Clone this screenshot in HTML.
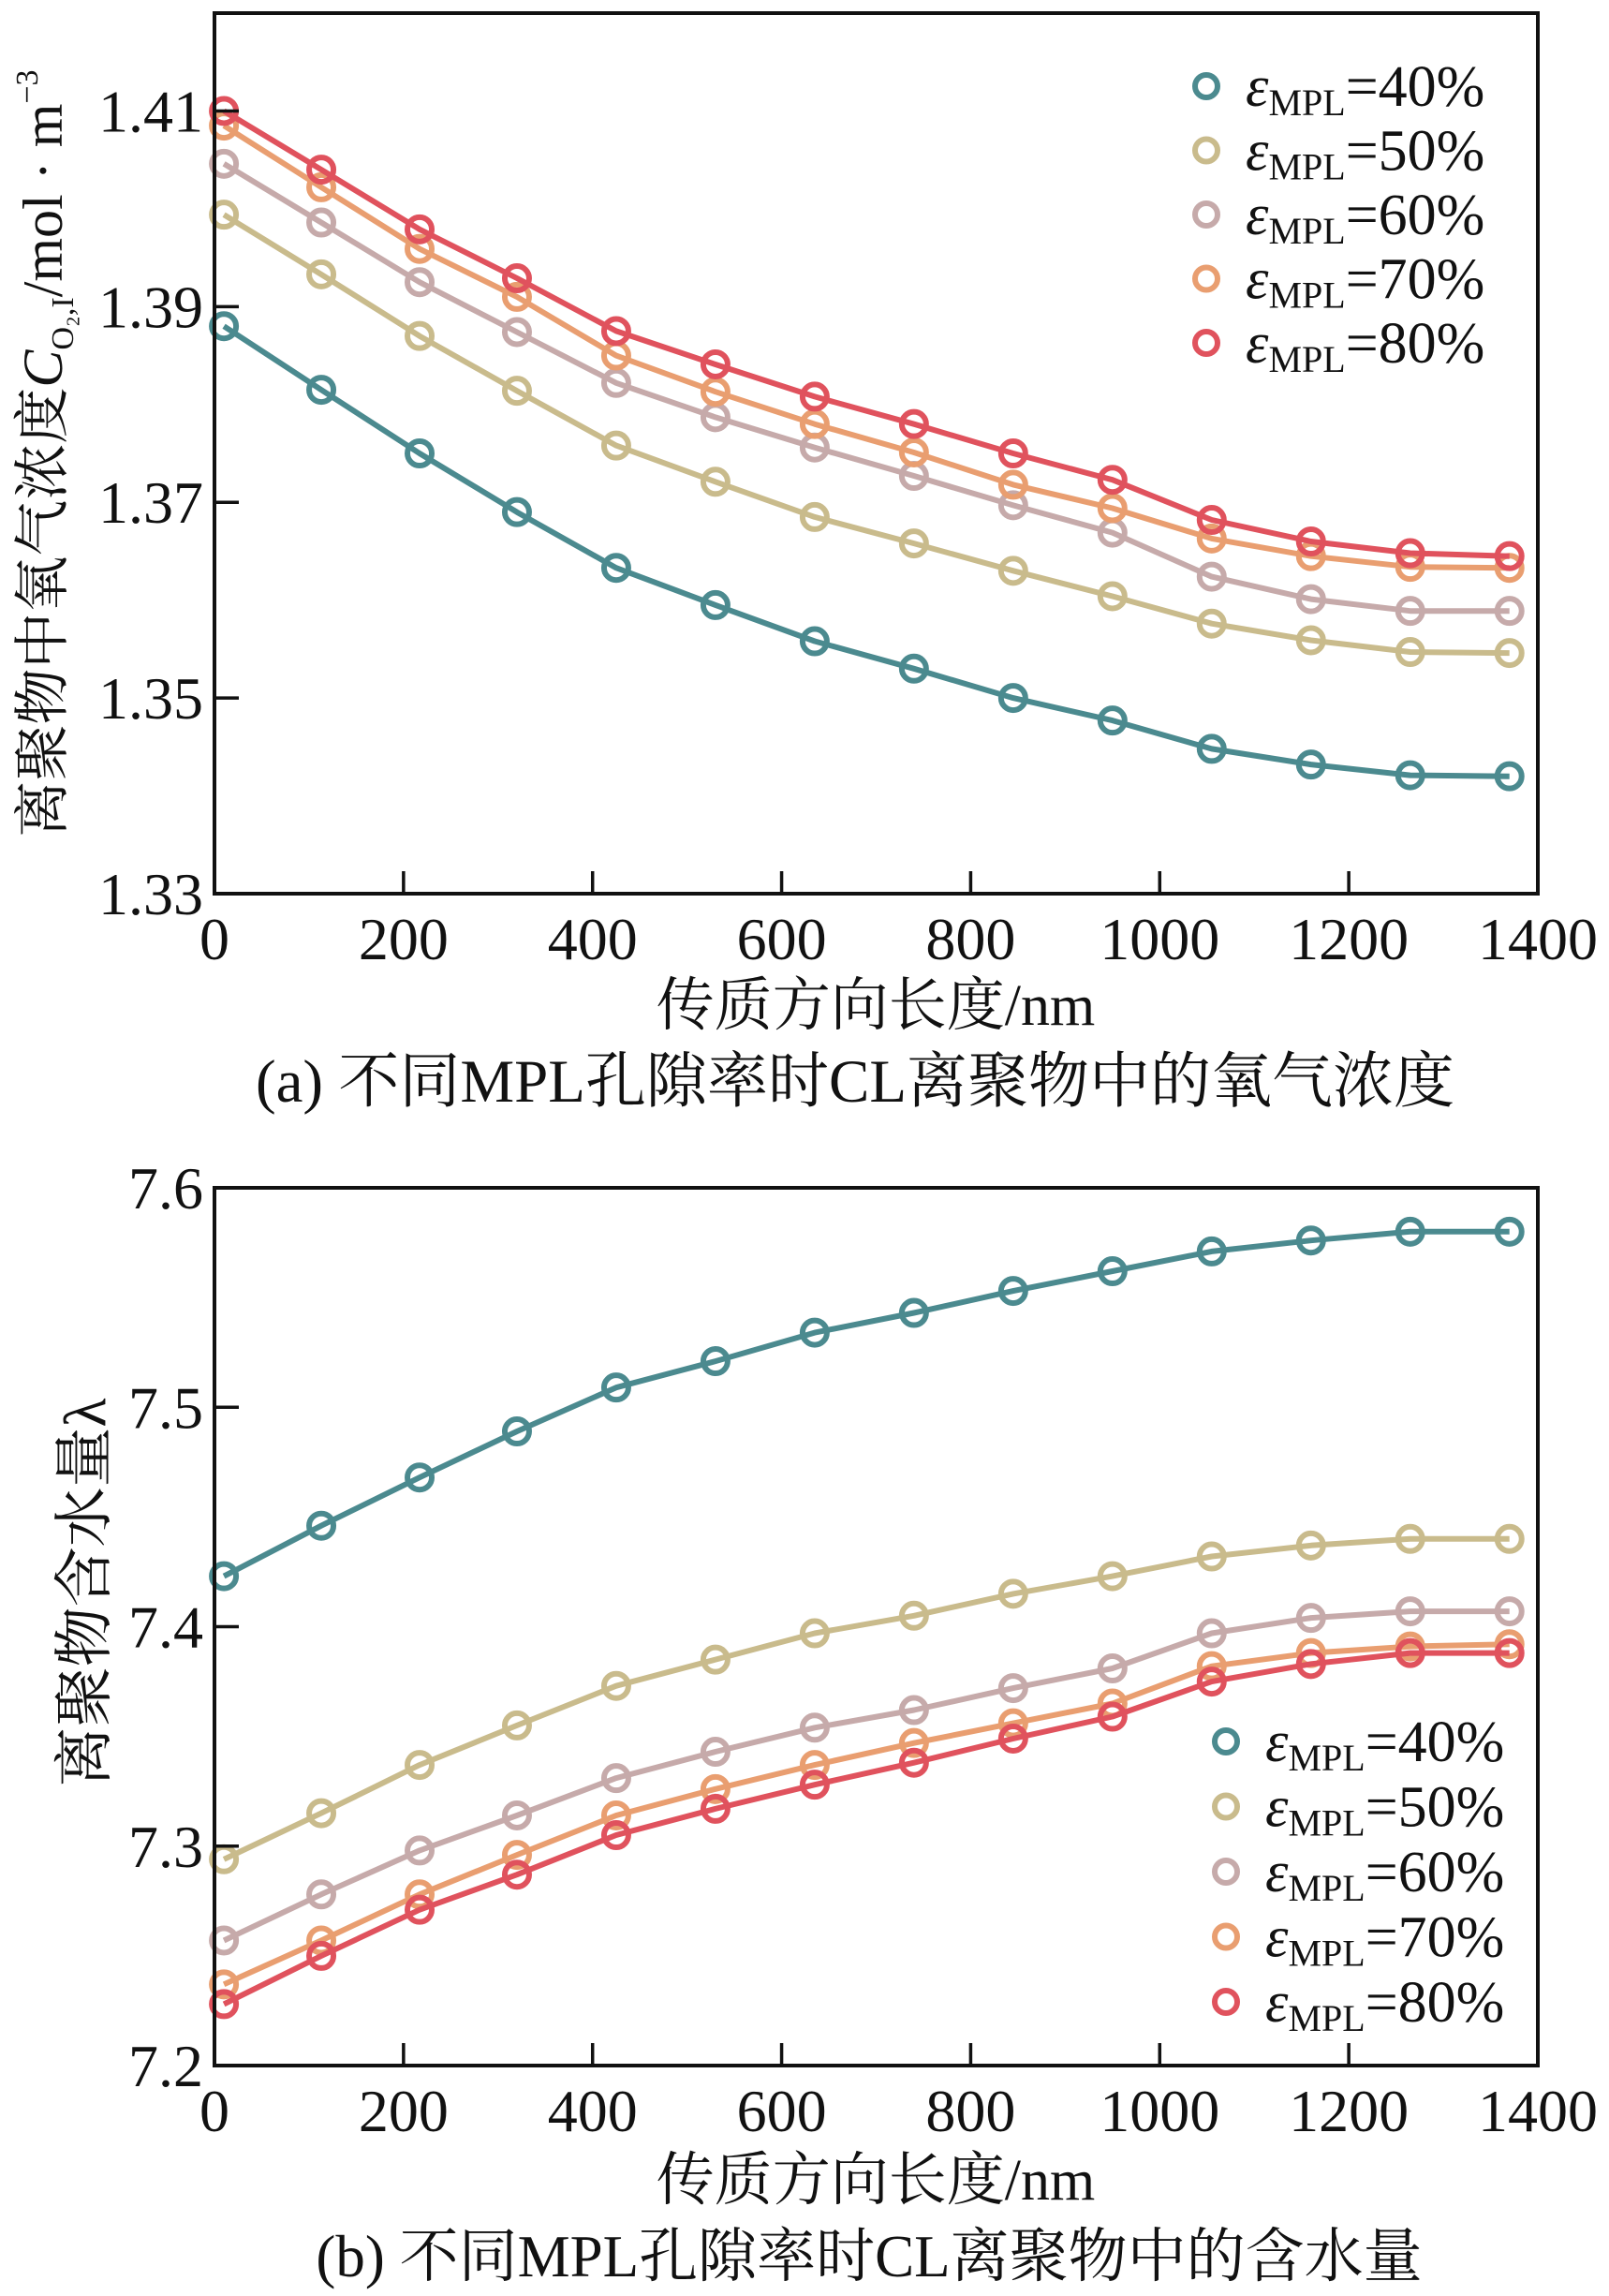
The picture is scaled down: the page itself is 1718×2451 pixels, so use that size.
<!DOCTYPE html>
<html><head><meta charset="utf-8"><style>
html,body{margin:0;padding:0;background:#fff}
svg{display:block}
text{font-family:"Liberation Serif","Noto Serif CJK SC","Noto Sans CJK SC",serif;fill:#111}
</style></head><body>
<svg id="fig" width="1718" height="2451" viewBox="0 0 1718 2451" xmlns="http://www.w3.org/2000/svg">
<g id="chartA"></g>
<g id="chartB"></g>
</svg>
<script>
const xValues=[10,113,217,320,425,530,635,740,845,950,1055,1160,1265,1370];
const seriesLabels=["40%","50%","60%","70%","80%"];
const seriesColors=["#4b8a8f","#c9bb8c","#c6aaaa","#e99e70","#e0525d"];
const xTicks=[0,200,400,600,800,1000,1200,1400];
const oxyTicks=["1.33","1.35","1.37","1.39","1.41"];
const waterTicks=["7.2","7.3","7.4","7.5","7.6"];
const oxy40=[1.388,1.3815,1.375,1.369,1.3633,1.3595,1.3558,1.353,1.350,1.3477,1.3448,1.3432,1.3421,1.342];
const oxy50=[1.3994,1.3933,1.387,1.3814,1.3758,1.3721,1.3685,1.3658,1.363,1.3604,1.3576,1.3559,1.3547,1.3546];
const oxy60=[1.4046,1.3986,1.3925,1.3874,1.3822,1.3787,1.3756,1.3727,1.3697,1.3669,1.3624,1.3601,1.3589,1.3589];
const oxy70=[1.4085,1.4022,1.3959,1.391,1.385,1.3813,1.378,1.3751,1.3718,1.3694,1.3663,1.3645,1.3634,1.3633];
const oxy80=[1.41,1.404,1.3979,1.3929,1.3875,1.3841,1.3808,1.378,1.375,1.3723,1.3682,1.366,1.3648,1.3645];
const wat40=[7.423,7.446,7.468,7.489,7.509,7.521,7.534,7.543,7.553,7.562,7.571,7.576,7.58,7.58];
const wat50=[7.294,7.315,7.337,7.355,7.373,7.385,7.397,7.405,7.415,7.423,7.432,7.437,7.44,7.44];
const wat60=[7.257,7.278,7.298,7.314,7.331,7.343,7.354,7.362,7.372,7.381,7.397,7.404,7.407,7.407];
const wat70=[7.237,7.257,7.278,7.296,7.314,7.326,7.337,7.347,7.356,7.365,7.382,7.388,7.391,7.392];
const wat80=[7.228,7.25,7.271,7.287,7.305,7.317,7.328,7.338,7.349,7.359,7.375,7.383,7.388,7.388];

const NS="http://www.w3.org/2000/svg";
function mk(parent,tag,attrs,txt){const e=document.createElementNS(NS,tag);for(const k in attrs)e.setAttribute(k,attrs[k]);if(txt!==undefined)e.textContent=txt;parent.appendChild(e);return e;}

function drawChart(g,cfg){
  const L=229,R=1642,T=cfg.top,B=cfg.bottom;
  const xs=v=>L+(v-0)/1400*(R-L);
  const ys=v=>B-(v-cfg.ymin)/(cfg.ymax-cfg.ymin)*(B-T);
  cfg.series.forEach((vals,si)=>{
    const sg=mk(g,"g",{});
    
    
    const d=vals.map((v,i)=>(i?"L":"M")+xs(xValues[i]).toFixed(1)+","+ys(v).toFixed(1)).join(" ");
    const p=mk(sg,"path",{d:d,fill:"none",stroke:seriesColors[si],"stroke-width":6,"stroke-linejoin":"round"});
    
    
    vals.forEach((v,i)=>{
      const c=mk(sg,"circle",{cx:xs(xValues[i]),cy:ys(v),r:13,fill:"none",stroke:seriesColors[si],"stroke-width":6});
      
      
    });
  });
  const fr=mk(g,"rect",{x:L,y:T,width:R-L,height:B-T,fill:"none",stroke:"#111","stroke-width":4});
  
  
  xTicks.forEach(v=>{
    const x=xs(v);
    if(v>0&&v<1400){const t=mk(g,"line",{x1:x,y1:B,x2:x,y2:B-24,stroke:"#111","stroke-width":3.5});
      
      }
    const tl=mk(g,"text",{x:x,y:B+70,"font-size":64,"text-anchor":"middle"},String(v));
    
    
  });
  cfg.yticks.forEach(s=>{
    const y=ys(parseFloat(s));
    if(y>T+2&&y<B-2){const t=mk(g,"line",{x1:L,y1:y,x2:L+26,y2:y,stroke:"#111","stroke-width":3.5});
      
      }
    const tl=mk(g,"text",{x:L-12,y:y+22,"font-size":64,"text-anchor":"end"},s);
    
    
  });
  const lg=mk(g,"g",{});
  
  
  seriesLabels.forEach((lab,si)=>{
    const y=cfg.legY+si*cfg.legStep;
    const e=mk(lg,"g",{});
    
    
    mk(e,"circle",{cx:cfg.legX,cy:y,r:12,fill:"none",stroke:seriesColors[si],"stroke-width":6});
    const t=mk(e,"text",{x:cfg.legX+42,y:y+21,"font-size":62});
    mk(t,"tspan",{"font-style":"italic"},"ε");
    mk(t,"tspan",{"font-size":40,dy:10},"MPL");
    mk(t,"tspan",{dy:-10},"="+lab);
  });
}

drawChart(document.getElementById("chartA"),{top:14,bottom:954,ymin:1.33,ymax:1.42,yticks:oxyTicks,
  series:[oxy40,oxy50,oxy60,oxy70,oxy80],legX:1288,legY:92,legStep:68.5});
drawChart(document.getElementById("chartB"),{top:1268,bottom:2205,ymin:7.2,ymax:7.6,yticks:waterTicks,
  series:[wat40,wat50,wat60,wat70,wat80],legX:1309,legY:1859,legStep:69.5});

const fig=document.getElementById("fig");
function label(name,attrs,txt){const t=mk(fig,"text",attrs,txt);return t;}
label('x-axis-title-a',{x:935,y:1094,"font-size":62,"text-anchor":"middle"},"传质方向长度/nm");
label('caption-a',{x:913,y:1176,"font-size":65,"text-anchor":"middle"},"(a) 不同MPL孔隙率时CL离聚物中的氧气浓度");
label('x-axis-title-b',{x:935,y:2348,"font-size":62,"text-anchor":"middle"},"传质方向长度/nm");
label('caption-b',{x:928,y:2430,"font-size":63,"text-anchor":"middle"},"(b) 不同MPL孔隙率时CL离聚物中的含水量");
const ya=label('y-axis-title-a',{x:0,y:0,"font-size":60,"text-anchor":"middle",transform:"translate(66,484) rotate(-90)"});
mk(ya,"tspan",{},"离聚物中氧气浓度");
mk(ya,"tspan",{"font-style":"italic"},"C");
mk(ya,"tspan",{"font-size":34,dy:12},"O₂,I");
mk(ya,"tspan",{dy:-12},"/mol · m");
mk(ya,"tspan",{"font-size":34,dy:-26},"−3");
label('y-axis-title-b',{x:0,y:0,"font-size":64,"text-anchor":"middle",transform:"translate(112,1700) rotate(-90)"},"离聚物含水量λ");
</script>
</body></html>
